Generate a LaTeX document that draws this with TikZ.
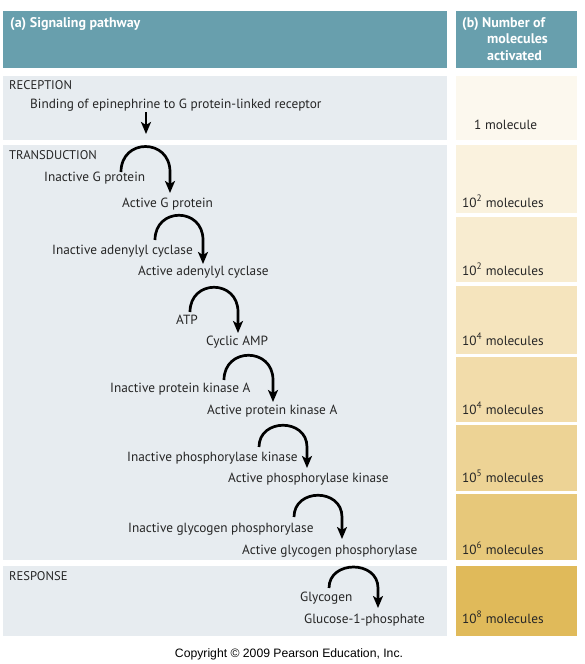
\documentclass[tikz,border=0pt]{standalone}
\usepackage{fontspec}
\setmainfont{PT Sans}
\newfontfamily\copyfont{Liberation Sans}
\usetikzlibrary{arrows.meta}
\definecolor{headteal}{RGB}{104,159,173}
\definecolor{panelgray}{RGB}{231,236,240}
\definecolor{amb1}{RGB}{252,248,238}
\definecolor{amb2}{RGB}{250,242,222}
\definecolor{amb3}{RGB}{248,236,208}
\definecolor{amb4}{RGB}{245,228,189}
\definecolor{amb5}{RGB}{242,220,170}
\definecolor{amb6}{RGB}{237,211,149}
\definecolor{amb7}{RGB}{231,200,122}
\definecolor{amb8}{RGB}{224,186,90}
\tikzset{
  lbl/.style={anchor=base west, inner sep=0pt, font=\fontsize{13.3}{15}\selectfont, text=black!85},
  sect/.style={anchor=base west, inner sep=0pt, font=\fontsize{12.6}{14}\selectfont, text=black!85},
  hdr/.style={anchor=base west, inner sep=0pt, font=\fontsize{14}{16}\bfseries\selectfont, text=white},
  cyc/.style={line width=2.7pt, -{Stealth[length=12pt,width=10pt,inset=3pt]}},
}
\begin{document}
\begin{tikzpicture}[x=1pt,y=-1pt]
\useasboundingbox[fill=white] (0,0) rectangle (584,664);
% header
\fill[headteal] (3,11) rectangle (447,68);
\fill[headteal] (456,11) rectangle (577,68);
\node[hdr] (ha) at (10,27) {(a) Signaling pathway};
\node[hdr] (hb1) at (462,27) {(b) Number of};
\node[hdr] (hb2) at (487,43.5) {molecules};
\node[hdr] (hb3) at (487,60) {activated};
% left panels
\fill[panelgray] (3,76) rectangle (447,140);
\fill[panelgray] (3,145) rectangle (447,560);
\fill[panelgray] (3,566) rectangle (447,636);
% right panels
\fill[amb1] (456,76) rectangle (577,140);
\fill[amb2] (456,145) rectangle (577,213);
\fill[amb3] (456,217) rectangle (577,282);
\fill[amb4] (456,286) rectangle (577,354);
\fill[amb5] (456,357) rectangle (577,422);
\fill[amb6] (456,425) rectangle (577,491);
\fill[amb7] (456,494) rectangle (577,560);
\fill[amb8] (456,566) rectangle (577,636);
% section labels
\node[sect] (rec) at (9,89) {RECEPTION};
\node[sect] (tra) at (9,159) {TRANSDUCTION};
\node[sect] (res) at (9,580) {RESPONSE};
% pathway texts
\node[lbl] (bind) at (30,108) {Binding of epinephrine to G protein-linked receptor};
\node[lbl] (igp) at (44,181) {Inactive G protein};
\node[lbl] (agp) at (122,207) {Active G protein};
\node[lbl] (iac) at (52,254) {Inactive adenylyl cyclase};
\node[lbl] (aac) at (138,275) {Active adenylyl cyclase};
\node[lbl] (atp) at (176,324) {ATP};
\node[lbl] (camp) at (206,345) {Cyclic AMP};
\node[lbl] (ipk) at (110,392) {Inactive protein kinase A};
\node[lbl] (apk) at (207,414) {Active protein kinase A};
\node[lbl] (iphk) at (127,461) {Inactive phosphorylase kinase};
\node[lbl] (aphk) at (228,482) {Active phosphorylase kinase};
\node[lbl] (igph) at (128,532) {Inactive glycogen phosphorylase};
\node[lbl] (agph) at (242,554) {Active glycogen phosphorylase};
\node[lbl] (glyc) at (300,601) {Glycogen};
\node[lbl] (g1p) at (304,623) {Glucose-1-phosphate};
% molecule counts
\node[lbl] (n1) at (474,129) {1 molecule};
\node[lbl] (n2) at (462,207) {10\textsuperscript{2} molecules};
\node[lbl] (n3) at (462,275) {10\textsuperscript{2} molecules};
\node[lbl] (n4) at (462,345) {10\textsuperscript{4} molecules};
\node[lbl] (n5) at (462,414) {10\textsuperscript{4} molecules};
\node[lbl] (n6) at (462,482) {10\textsuperscript{5} molecules};
\node[lbl] (n7) at (462,554) {10\textsuperscript{6} molecules};
\node[lbl] (n8) at (462,623) {10\textsuperscript{8} molecules};
% reception arrow
\coordinate (r0) at (146,112);
\coordinate (r1) at (146,134);
\draw[cyc] (r0) -- (r1);
% cycle arrows: start point, tip
\coordinate (s1) at (121,172); \coordinate (e1) at (170,193);
\coordinate (s2) at (155,240); \coordinate (e2) at (203,264);
\coordinate (s3) at (190,312); \coordinate (e3) at (238,333);
\coordinate (s4) at (224,380); \coordinate (e4) at (273,402);
\coordinate (s5) at (259,447); \coordinate (e5) at (307,468);
\coordinate (s6) at (294,517); \coordinate (e6) at (342,539);
\coordinate (s7) at (329,588); \coordinate (e7) at (378,608);
\draw[cyc] (s1) .. controls +(0,-34) and +(0,-34) .. (s1 -| e1) -- (e1);
\draw[cyc] (s2) .. controls +(0,-33) and +(0,-33) .. (s2 -| e2) -- (e2);
\draw[cyc] (s3) .. controls +(0,-33) and +(0,-33) .. (s3 -| e3) -- (e3);
\draw[cyc] (s4) .. controls +(0,-33) and +(0,-33) .. (s4 -| e4) -- (e4);
\draw[cyc] (s5) .. controls +(0,-29) and +(0,-29) .. (s5 -| e5) -- (e5);
\draw[cyc] (s6) .. controls +(0,-29) and +(0,-29) .. (s6 -| e6) -- (e6);
\draw[cyc] (s7) .. controls +(0,-28) and +(0,-28) .. (s7 -| e7) -- (e7);
% copyright
\node[anchor=base, inner sep=0pt, font=\copyfont\fontsize{12.2}{14}\selectfont] (copy) at (289,657) {Copyright © 2009 Pearson Education, Inc.};
\end{tikzpicture}
\end{document}
